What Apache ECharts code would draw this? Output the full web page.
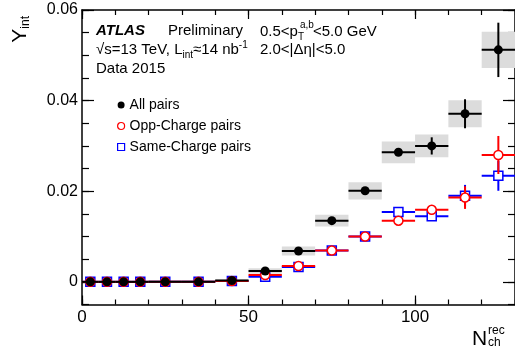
<!DOCTYPE html>
<html>
<head>
<meta charset="utf-8">
<script src="https://cdn.jsdelivr.net/npm/echarts@6/dist/echarts.min.js"></script>
<style>
  html, body { margin: 0; padding: 0; background: #fff; }
  #chart { width: 515px; height: 358px; }
</style>
</head>
<body>
<div id="chart"></div>
<script>
// bins in N_ch^rec
const binLow = [0, 5, 10, 15, 20, 30, 40, 50, 60, 70, 80, 90, 100, 110, 120];
const binHigh = [5, 10, 15, 20, 30, 40, 50, 60, 70, 80, 90, 100, 110, 120, 130];
const binCenter = [2.5, 7.5, 12.5, 17.5, 25, 35, 45, 55, 65, 75, 85, 95, 105, 115, 125];

// Y_int per bin
const allPairs = [0, 0, 0, 0, 0, 0, 0.0003, 0.0024, 0.0068, 0.0135, 0.0201, 0.0286, 0.0300, 0.0371, 0.0512];
const allStat = [0.0002, 0.0002, 0.0002, 0.0002, 0.0002, 0.0002, 0.0003, 0.0004, 0.0005, 0.0006, 0.0007, 0.0008, 0.0019, 0.0032, 0.0060];
const allSys = [0.0002, 0.0002, 0.0002, 0.0002, 0.0002, 0.0002, 0.0003, 0.0006, 0.0010, 0.0013, 0.0019, 0.0024, 0.0025, 0.0030, 0.0040];

const oppPairs = [0, 0, 0, 0, 0, 0, 0.0002, 0.0015, 0.0035, 0.0069, 0.0100, 0.0135, 0.0159, 0.0186, 0.0280];
const oppStat = [0.0002, 0.0002, 0.0002, 0.0002, 0.0002, 0.0002, 0.0003, 0.0004, 0.0005, 0.0006, 0.0007, 0.0008, 0.0010, 0.0025, 0.0042];

const samePairs = [0, 0, 0, 0, 0, 0, 0.0002, 0.0011, 0.0033, 0.0069, 0.0100, 0.0154, 0.0145, 0.0190, 0.0234];
const sameStat = [0.0002, 0.0002, 0.0002, 0.0002, 0.0002, 0.0002, 0.0003, 0.0004, 0.0005, 0.0006, 0.0007, 0.0008, 0.0009, 0.0024, 0.0033];

// axis ticks
const xMajorTicks = [0, 50, 100];
const yMajorTicks = [0, 0.02, 0.04, 0.06];

const FONT = 'Liberation Sans, Arial, Helvetica, sans-serif';
const X_RANGE = { min: 0, max: 130 };
const Y_RANGE = { min: -0.005, max: 0.06 };

function binRows( values, errors ) {
	return binCenter.map( ( c, i ) => [ binLow[ i ], binHigh[ i ], c, values[ i ], errors[ i ] ] );
}

function points( values ) {
	return binCenter.map( ( c, i ) => [ c, values[ i ] ] );
}

// horizontal bar over the bin width plus vertical stat error
function errorBars( color ) {
	return function ( params, api ) {
		const y = api.value( 3 );
		const err = api.value( 4 );
		const left = api.coord( [ api.value( 0 ), y ] );
		const right = api.coord( [ api.value( 1 ), y ] );
		const top = api.coord( [ api.value( 2 ), y + err ] );
		const bottom = api.coord( [ api.value( 2 ), y - err ] );
		const style = { stroke: color, lineWidth: 2 };
		return {
			type: 'group',
			children: [
				{ type: 'line', shape: { x1: left[ 0 ], y1: left[ 1 ], x2: right[ 0 ], y2: right[ 1 ] }, style: style },
				{ type: 'line', shape: { x1: top[ 0 ], y1: top[ 1 ], x2: bottom[ 0 ], y2: bottom[ 1 ] }, style: style }
			]
		};
	};
}

function sysBoxes( params, api ) {
	const y = api.value( 3 );
	const sys = api.value( 4 );
	const p1 = api.coord( [ api.value( 0 ), y + sys ] );
	const p2 = api.coord( [ api.value( 1 ), y - sys ] );
	return {
		type: 'rect',
		shape: { x: p1[ 0 ], y: p1[ 1 ], width: p2[ 0 ] - p1[ 0 ], height: p2[ 1 ] - p1[ 1 ] },
		style: { fill: '#dcdcdc' }
	};
}

function xAxis( position, major, labels ) {
	return Object.assign( {
		type: 'value',
		position: position,
		splitLine: { show: false },
		axisLine: { show: major, onZero: false, lineStyle: { color: '#000', width: 1.5 } },
		axisTick: major ?
			{ inside: true, length: 9, customValues: xMajorTicks, lineStyle: { color: '#000', width: 1.2 } } :
			{ inside: true, length: 5, lineStyle: { color: '#000', width: 1.2 } },
		axisLabel: labels ?
			{ customValues: xMajorTicks, fontSize: 17, fontFamily: FONT, color: '#000', margin: 4 } :
			{ show: false }
	}, X_RANGE, major ? {} : { interval: 10 } );
}

function yAxis( position, major, labels ) {
	return Object.assign( {
		type: 'value',
		position: position,
		splitLine: { show: false },
		axisLine: { show: major, onZero: false, lineStyle: { color: '#000', width: 1.5 } },
		axisTick: major ?
			{ inside: true, length: 12, customValues: yMajorTicks, lineStyle: { color: '#000', width: 1.2 } } :
			{ inside: true, length: 7, lineStyle: { color: '#000', width: 1.2 } },
		axisLabel: labels ?
			{
				customValues: yMajorTicks,
				fontSize: 16,
				fontFamily: FONT,
				color: '#000',
				margin: 4,
				formatter: ( v ) => ( v === 0 ? '0' : v.toFixed( 2 ) )
			} :
			{ show: false }
	}, Y_RANGE, major ? {} : { interval: 0.005 } );
}

const chart = echarts.init( document.getElementById( 'chart' ), null, { renderer: 'canvas' } );

const mainText = { fontSize: 15, fontFamily: FONT, color: '#000', lineHeight: 20 };
const subText = { fontSize: 10, fontFamily: FONT, color: '#000', lineHeight: 12, verticalAlign: 'bottom' };
const supText = { fontSize: 10, fontFamily: FONT, color: '#000', lineHeight: 10, verticalAlign: 'top' };

chart.setOption( {
	animation: false,
	backgroundColor: '#fff',
	grid: { left: 82, top: 10, right: -3, bottom: 53.5, containLabel: false },
	xAxis: [
		xAxis( 'bottom', true, true ),
		xAxis( 'bottom', false, false ),
		xAxis( 'top', true, false ),
		xAxis( 'top', false, false )
	],
	yAxis: [
		yAxis( 'left', true, true ),
		yAxis( 'left', false, false ),
		yAxis( 'right', true, false ),
		yAxis( 'right', false, false )
	],
	legend: {
		orient: 'vertical',
		left: 112,
		top: 93,
		itemWidth: 7,
		itemHeight: 7,
		itemGap: 7,
		textStyle: { fontSize: 14, fontFamily: FONT, color: '#000' },
		data: [
			{ name: 'All pairs', icon: 'circle', itemStyle: { color: '#000', borderWidth: 0 } },
			{ name: 'Opp-Charge pairs', icon: 'circle', itemStyle: { color: '#fff', borderColor: '#f00', borderWidth: 1.2 } },
			{ name: 'Same-Charge pairs', icon: 'rect', itemStyle: { color: '#fff', borderColor: '#00f', borderWidth: 1.2 } }
		]
	},
	graphic: [
		{ type: 'text', style: { x: 96, y: 31, text: 'ATLAS', font: 'italic bold 15px ' + FONT, fill: '#000', verticalAlign: 'middle' } },
		{ type: 'text', style: { x: 168, y: 31, text: 'Preliminary', font: '15px ' + FONT, fill: '#000', verticalAlign: 'middle' } },
		{
			type: 'text',
			style: {
				x: 96, y: 50, verticalAlign: 'middle',
				text: '{m|√s=13 TeV, L}{sub|int}{m|≈14 nb}{sup|-1}',
				rich: { m: mainText, sub: subText, sup: supText }
			}
		},
		{ type: 'text', style: { x: 96, y: 69, text: 'Data 2015', font: '15px ' + FONT, fill: '#000', verticalAlign: 'middle' } },
		{
			type: 'text',
			style: {
				x: 260, y: 32, verticalAlign: 'middle',
				text: '{m|0.5<p}{sub|T}{m|<5.0 GeV}',
				rich: { m: mainText, sub: Object.assign( {}, subText, { width: 15 } ), sup: supText }
			}
		},
		{ type: 'text', style: { x: 300, y: 25, text: 'a,b', font: '10px ' + FONT, fill: '#000', verticalAlign: 'middle' } },
		{ type: 'text', style: { x: 260, y: 50, text: '2.0<|Δη|<5.0', font: '15px ' + FONT, fill: '#000', verticalAlign: 'middle' } },
		// axis titles
		{ type: 'text', style: { x: 472, y: 339, text: 'N', font: '21px ' + FONT, fill: '#000', verticalAlign: 'middle' } },
		{ type: 'text', style: { x: 488, y: 331, text: 'rec', font: '12px ' + FONT, fill: '#000', verticalAlign: 'middle' } },
		{ type: 'text', style: { x: 488, y: 343, text: 'ch', font: '12px ' + FONT, fill: '#000', verticalAlign: 'middle' } },
		{
			type: 'text',
			x: 20,
			y: 16,
			rotation: Math.PI / 2,
			style: {
				x: 0, y: 0, align: 'right', verticalAlign: 'middle',
				text: '{m|Y}{s|int}',
				rich: {
					m: { fontSize: 21, fontFamily: FONT, color: '#000', lineHeight: 24 },
					s: { fontSize: 12, fontFamily: FONT, color: '#000', lineHeight: 14, verticalAlign: 'bottom' }
				}
			}
		}
	],
	series: [
		{
			type: 'custom',
			name: 'sys',
			z: 1,
			renderItem: sysBoxes,
			data: binRows( allPairs, allSys )
		},
		{
			type: 'custom',
			name: 'same-err',
			z: 2,
			renderItem: errorBars( '#00f' ),
			data: binRows( samePairs, sameStat )
		},
		{
			type: 'scatter',
			name: 'Same-Charge pairs',
			z: 3,
			symbol: 'rect',
			symbolSize: 9,
			itemStyle: { color: '#fff', borderColor: '#00f', borderWidth: 1.5, opacity: 1 },
			data: points( samePairs )
		},
		{
			type: 'custom',
			name: 'opp-err',
			z: 4,
			renderItem: errorBars( '#f00' ),
			data: binRows( oppPairs, oppStat )
		},
		{
			type: 'scatter',
			name: 'Opp-Charge pairs',
			z: 5,
			symbol: 'circle',
			symbolSize: 9,
			itemStyle: { color: '#fff', borderColor: '#f00', borderWidth: 1.5, opacity: 1 },
			data: points( oppPairs )
		},
		{
			type: 'custom',
			name: 'all-err',
			z: 6,
			renderItem: errorBars( '#000' ),
			data: binRows( allPairs, allStat )
		},
		{
			type: 'scatter',
			name: 'All pairs',
			z: 7,
			symbol: 'circle',
			symbolSize: 9,
			itemStyle: { color: '#000', opacity: 1 },
			data: points( allPairs )
		}
	]
} );
</script>
</body>
</html>
